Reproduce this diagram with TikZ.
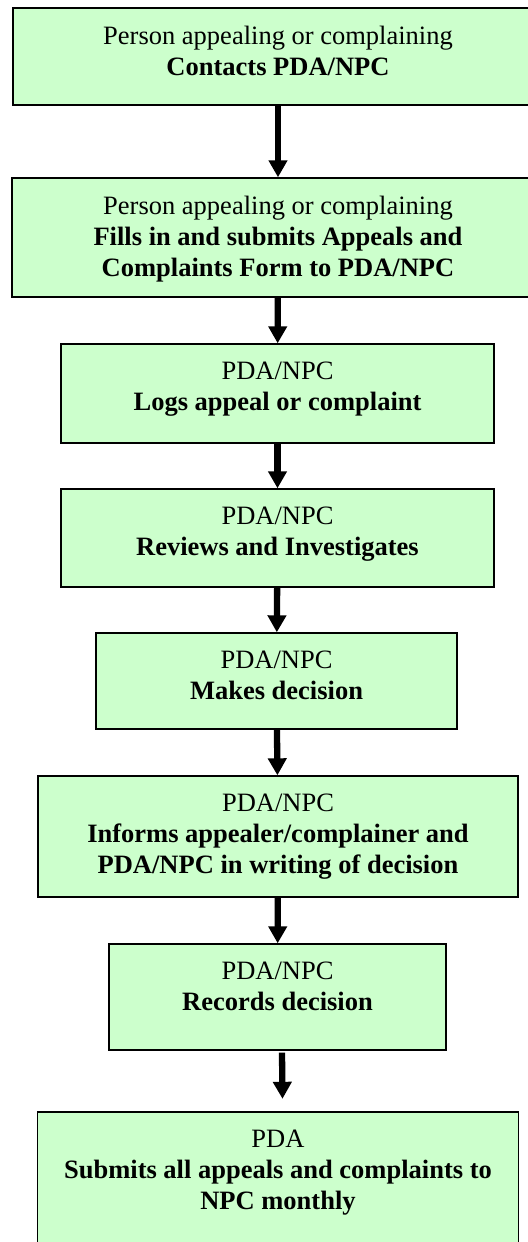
\documentclass[tikz,border=0pt]{standalone}
\usepackage{fontspec}
\setmainfont{Liberation Serif}
\usetikzlibrary{arrows.meta,positioning}

\definecolor{boxgreen}{HTML}{CCFFCC}

\begin{document}
\begin{tikzpicture}[x=0.5pt,y=-0.5pt,
    flowbox/.style={draw=black,line width=0.7pt,fill=boxgreen,inner sep=0pt},
    flowtext/.style={align=center,inner sep=0pt,
      font=\fontsize{13.25pt}{15.5pt}\selectfont},
    flowarrow/.style={line width=3.15pt,-{Triangle[length=8.5pt,width=9pt]}}]
  % The page is 528 x 1242 units; the two top boxes run off the right
  % edge and the last one runs off the bottom, so we clip to the page.
  \useasboundingbox (0,0) rectangle (528,1242);
  \clip (0,0) rectangle (528,1242);

  % Boxes: empty nodes of fixed size, the text is hung from the top edge.
  \node[flowbox,minimum width=265pt,minimum height=48.5pt]   (b1) at (278,56.5)   {};
  \node[flowbox,minimum width=266pt,minimum height=59.5pt]   (b2) at (278,237.5)  {};
  \node[flowbox,minimum width=216.5pt,minimum height=49.5pt] (b3) at (277.5,393.5) {};
  \node[flowbox,minimum width=216.5pt,minimum height=49pt]   (b4) at (277.5,538)  {};
  \node[flowbox,minimum width=180.5pt,minimum height=48pt]   (b5) at (276.5,681)  {};
  \node[flowbox,minimum width=240pt,minimum height=60.5pt]   (b6) at (278,836.5)  {};
  \node[flowbox,minimum width=168.5pt,minimum height=53pt]   (b7) at (277.5,997)  {};
  \node[flowbox,minimum width=240.5pt,minimum height=81.5pt] (b8) at (278,1193.5) {};

  % Texts
  \node[flowtext,below=9pt of b1.north] (t1)
    {Person appealing or complaining\\\textbf{Contacts PDA/NPC}};
  \node[flowtext,below=9pt of b2.north] (t2)
    {Person appealing or complaining\\\textbf{Fills in and submits Appeals and}\\
     \textbf{Complaints Form to PDA/NPC}};
  \node[flowtext,below=9pt of b3.north] (t3) {PDA/NPC\\\textbf{Logs appeal or complaint}};
  \node[flowtext,below=9pt of b4.north] (t4) {PDA/NPC\\\textbf{Reviews and Investigates}};
  \node[flowtext,below=9pt of b5.north] (t5) {PDA/NPC\\\textbf{Makes decision}};
  \node[flowtext,below=9pt of b6.north] (t6)
    {PDA/NPC\\\textbf{Informs appealer/complainer and}\\
     \textbf{PDA/NPC in writing of decision}};
  \node[flowtext,below=9pt of b7.north] (t7) {PDA/NPC\\\textbf{Records decision}};
  \node[flowtext,below=9pt of b8.north] (t8)
    {PDA\\\textbf{Submits all appeals and complaints to}\\\textbf{NPC monthly}};

  % Arrows between the boxes
  \foreach \from/\to in {b1/b2,b2/b3,b3/b4,b4/b5,b5/b6,b6/b7}
    \draw[flowarrow] (\from) -- (\to);
  % the last one stands a little to the right and short of the box
  \draw[flowarrow] ([xshift=2.25pt,yshift=-1pt]b7.south) -- ([xshift=2.25pt,yshift=6.25pt]b8.north);
\end{tikzpicture}
\end{document}
